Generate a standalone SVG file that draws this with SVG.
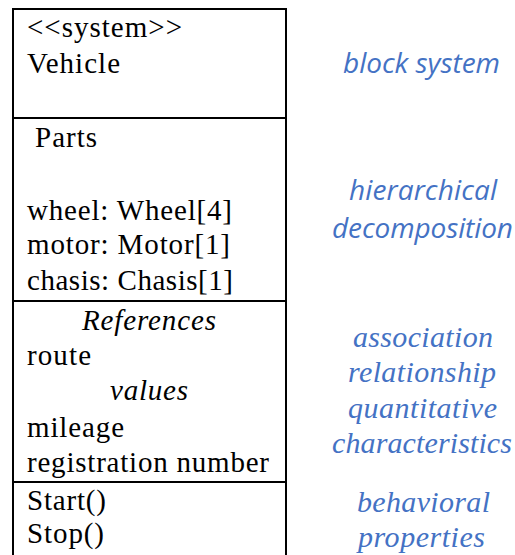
<svg xmlns="http://www.w3.org/2000/svg" width="515" height="555" viewBox="0 0 515 555">
<style>
.t{font-family:'Liberation Serif','Times New Roman',Times,serif;font-size:29px;fill:#000}
.i{font-style:italic}
.c{text-anchor:middle}
.b{font-family:'Open Sans','Noto Sans',sans-serif;font-style:italic;font-size:28px;fill:#4472C4;text-anchor:middle}
.s{font-family:'Liberation Serif','Times New Roman',Times,serif;font-style:italic;font-size:30px;fill:#4472C4;text-anchor:middle}
.ln{stroke:#000;stroke-width:2;fill:none}
</style>
<rect width="515" height="555" fill="#fff"/>
<g id="block">
<rect class="ln" x="13" y="9" width="273" height="560"/>
<line class="ln" x1="13" y1="118" x2="286" y2="118"/>
<line class="ln" x1="13" y1="301" x2="286" y2="301"/>
<line class="ln" x1="13" y1="482" x2="286" y2="482"/>
<text class="t" x="27" y="37" textLength="155">&lt;&lt;system&gt;&gt;</text>
<text class="t" x="27" y="73" textLength="93">Vehicle</text>
<text class="t" x="35" y="147" textLength="62">Parts</text>
<text class="t" x="27" y="220" textLength="205">wheel: Wheel[4]</text>
<text class="t" x="27" y="254" textLength="203">motor: Motor[1]</text>
<text class="t" x="27" y="290" textLength="206">chasis: Chasis[1]</text>
<text class="t i c" x="149" y="330" textLength="134">References</text>
<text class="t" x="27" y="365" textLength="64">route</text>
<text class="t i c" x="149" y="400" textLength="78">values</text>
<text class="t" x="27" y="437" textLength="97">mileage</text>
<text class="t" x="27" y="472" textLength="242">registration number</text>
<text class="t" x="27" y="510" textLength="79">Start()</text>
<text class="t" x="27" y="543" textLength="77">Stop()</text>
</g>
<g id="labels">
<text class="b" x="421.5" y="73" textLength="157">block system</text>
<text class="b" x="423" y="200" textLength="148">hierarchical</text>
<text class="b" x="422.5" y="238" textLength="181">decomposition</text>
<text class="s" x="423" y="347" textLength="140">association</text>
<text class="s" x="422" y="382" textLength="148">relationship</text>
<text class="s" x="422.5" y="418" textLength="149">quantitative</text>
<text class="s" x="422" y="453" textLength="180">characteristics</text>
<text class="s" x="423.5" y="512" textLength="133">behavioral</text>
<text class="s" x="421.5" y="547" textLength="127">properties</text>
</g>
</svg>
